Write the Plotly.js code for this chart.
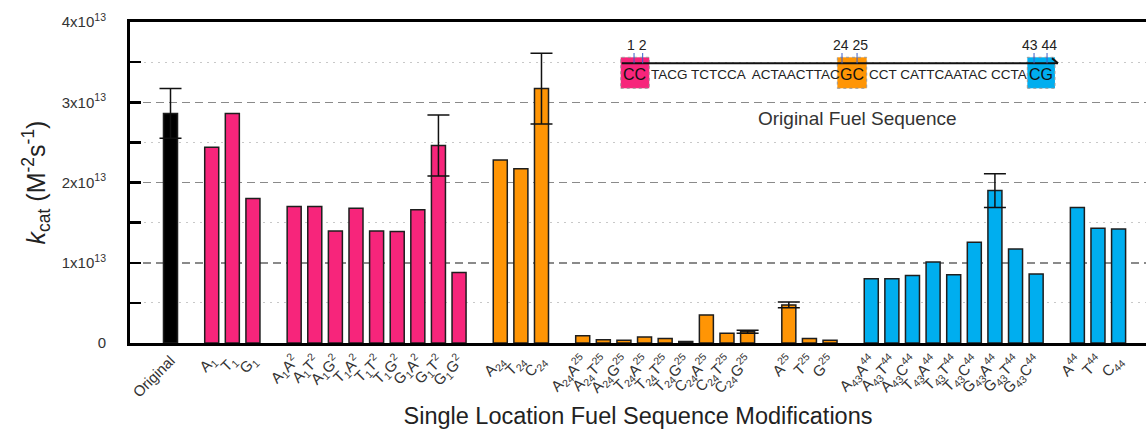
<!DOCTYPE html>
<html>
<head>
<meta charset="utf-8">
<script src="https://cdn.plot.ly/plotly-3.0.1.min.js"></script>
<style>
  html, body { margin: 0; padding: 0; background: #fff; }
  #chart { width: 1146px; height: 429px; }
</style>
</head>
<body>
<div id="chart"></div>
<script>
// ---------- Data (kcat values, units of M^-2 s^-1) ----------
const labelsOriginal = ['Original'];
const valuesOriginal = [2.86e13];
const errorsOriginal = [0.31e13];

const labelsPos1 = ['A<sub>1</sub>', 'T<sub>1</sub>', 'G<sub>1</sub>'];
const valuesPos1 = [2.44e13, 2.86e13, 1.80e13];
const errorsPos1 = [NaN, NaN, NaN];

const labelsPos12 = ['A<sub>1</sub>A<sup>2</sup>', 'A<sub>1</sub>T<sup>2</sup>', 'A<sub>1</sub>G<sup>2</sup>',
                     'T<sub>1</sub>A<sup>2</sup>', 'T<sub>1</sub>T<sup>2</sup>', 'T<sub>1</sub>G<sup>2</sup>',
                     'G<sub>1</sub>A<sup>2</sup>', 'G<sub>1</sub>T<sup>2</sup>', 'G<sub>1</sub>G<sup>2</sup>'];
const valuesPos12 = [1.70e13, 1.70e13, 1.395e13, 1.68e13, 1.395e13, 1.39e13, 1.66e13, 2.46e13, 0.88e13];
const errorsPos12 = [NaN, NaN, NaN, NaN, NaN, NaN, NaN, 0.38e13, NaN];

const labelsPos24 = ['A<sub>24</sub>', 'T<sub>24</sub>', 'C<sub>24</sub>'];
const valuesPos24 = [2.28e13, 2.17e13, 3.17e13];
const errorsPos24 = [NaN, NaN, 0.44e13];

const labelsPos2425 = ['A<sub>24</sub>A<sup>25</sup>', 'A<sub>24</sub>T<sup>25</sup>', 'A<sub>24</sub>G<sup>25</sup>',
                       'T<sub>24</sub>A<sup>25</sup>', 'T<sub>24</sub>T<sup>25</sup>', 'T<sub>24</sub>G<sup>25</sup>',
                       'C<sub>24</sub>A<sup>25</sup>', 'C<sub>24</sub>T<sup>25</sup>', 'C<sub>24</sub>G<sup>25</sup>'];
const valuesPos2425 = [0.09e13, 0.04e13, 0.035e13, 0.075e13, 0.055e13, 0.02e13, 0.35e13, 0.12e13, 0.14e13];
const errorsPos2425 = [NaN, NaN, NaN, NaN, NaN, NaN, NaN, NaN, 0.02e13];

const labelsPos25 = ['A<sup>25</sup>', 'T<sup>25</sup>', 'G<sup>25</sup>'];
const valuesPos25 = [0.475e13, 0.055e13, 0.035e13];
const errorsPos25 = [0.035e13, NaN, NaN];

const labelsPos4344 = ['A<sub>43</sub>A<sup>44</sup>', 'A<sub>43</sub>T<sup>44</sup>', 'A<sub>43</sub>C<sup>44</sup>',
                       'T<sub>43</sub>A<sup>44</sup>', 'T<sub>43</sub>T<sup>44</sup>', 'T<sub>43</sub>C<sup>44</sup>',
                       'G<sub>43</sub>A<sup>44</sup>', 'G<sub>43</sub>T<sup>44</sup>', 'G<sub>43</sub>C<sup>44</sup>'];
const valuesPos4344 = [0.80e13, 0.80e13, 0.84e13, 1.01e13, 0.85e13, 1.255e13, 1.90e13, 1.17e13, 0.86e13];
const errorsPos4344 = [NaN, NaN, NaN, NaN, NaN, NaN, 0.21e13, NaN, NaN];

const labelsPos44 = ['A<sup>44</sup>', 'T<sup>44</sup>', 'C<sub>44</sub>'];
const valuesPos44 = [1.69e13, 1.43e13, 1.42e13];
const errorsPos44 = [NaN, NaN, NaN];

const yTickValues = [0, 1e13, 2e13, 3e13, 4e13];
const yTickLabels = ['0', '1x10<sup>13</sup>', '2x10<sup>13</sup>', '3x10<sup>13</sup>', '4x10<sup>13</sup>'];

// ---------- Styling ----------
const PINK = '#F7257B', ORANGE = '#FF9505', BLUE = '#00AEEF', BLACK = '#000000';
const FONT = '"Liberation Sans", Arial, Helvetica, sans-serif';

const groups = [
  [labelsOriginal, valuesOriginal, errorsOriginal, BLACK],
  [labelsPos1, valuesPos1, errorsPos1, PINK],
  [labelsPos12, valuesPos12, errorsPos12, PINK],
  [labelsPos24, valuesPos24, errorsPos24, ORANGE],
  [labelsPos2425, valuesPos2425, errorsPos2425, ORANGE],
  [labelsPos25, valuesPos25, errorsPos25, ORANGE],
  [labelsPos4344, valuesPos4344, errorsPos4344, BLUE],
  [labelsPos44, valuesPos44, errorsPos44, BLUE]
];

// Sequential slot index with one empty slot between groups
const traces = [];
const tickvals = [], ticktext = [];
let slot = 0;
groups.forEach(([labels, values, errors, color]) => {
  const xs = labels.map((_, i) => slot + i);
  xs.forEach((x, i) => { tickvals.push(x); ticktext.push(labels[i]); });
  traces.push({
    type: 'bar',
    x: xs,
    y: values,
    width: 0.68,
    marker: { color: color, line: { color: '#1e1e1e', width: 1.5 } },
    error_y: { type: 'data', array: errors, visible: true, color: '#111', thickness: 1.5, width: 11 },
    hoverinfo: 'skip',
    showlegend: false
  });
  slot += labels.length + 1;
});

const seqY = 0.835;
const layout = {
  width: 1146, height: 429,
  margin: { l: 130, r: 0, t: 22, b: 86, pad: 0 },
  paper_bgcolor: '#fff', plot_bgcolor: '#fff',
  font: { family: FONT, color: '#333' },
  bargap: 0,
  xaxis: {
    range: [-1.965, 47.33],
    tickmode: 'array', tickvals: tickvals, ticktext: ticktext,
    tickangle: -45, tickfont: { size: 15, color: '#333' },
    ticks: '', showgrid: false, zeroline: false,
    showline: true, linecolor: '#000', linewidth: 3, mirror: true,
    automargin: false,
    title: { text: 'Single Location Fuel Sequence Modifications', font: { size: 23.5, color: '#222' }, standoff: 10 }
  },
  yaxis: {
    range: [0, 4e13],
    tickmode: 'array', tickvals: yTickValues, ticktext: yTickLabels,
    tickfont: { size: 15, color: '#333' },
    ticks: 'inside', ticklen: 11, tickwidth: 2.5, tickcolor: '#000',
    ticklabelstandoff: 18,
    showline: true, linecolor: '#000', linewidth: 3,
    zeroline: false,
    showgrid: true, gridcolor: '#8a8a8a', gridwidth: 1.5, griddash: '8px,5px',
    minor: { tickmode: 'array', tickvals: [0.5e13, 1.5e13, 2.5e13, 3.5e13], ticks: 'inside', ticklen: 11, tickwidth: 2.5, tickcolor: '#000',
             showgrid: true, gridcolor: '#c8c8c8', gridwidth: 1, griddash: '2px,5px' },
    automargin: false,
    title: { text: '<i>k</i><sub>cat</sub> (M<sup>-2</sup>s<sup>-1</sup>)', font: { size: 25, color: '#222' }, standoff: 10 }
  },
  shapes: [
    { type: 'rect', xref: 'paper', yref: 'paper', x0: 0.4830, x1: 0.5111, y0: 0.7935, y1: 0.8900,
      fillcolor: PINK, line: { color: '#999', width: 1, dash: 'dot' }, layer: 'above' },
    { type: 'rect', xref: 'paper', yref: 'paper', x0: 0.6962, x1: 0.7251, y0: 0.7935, y1: 0.8900,
      fillcolor: ORANGE, line: { color: '#999', width: 1, dash: 'dot' }, layer: 'above' },
    { type: 'rect', xref: 'paper', yref: 'paper', x0: 0.8832, x1: 0.9104, y0: 0.7935, y1: 0.8900,
      fillcolor: BLUE, line: { color: '#999', width: 1, dash: 'dot' }, layer: 'above' },
    { type: 'line', xref: 'paper', yref: 'paper', x0: 0.4840, x1: 0.9134, y0: 0.8713, y1: 0.8713,
      line: { color: '#111', width: 2 }, layer: 'above' },
    { type: 'line', xref: 'paper', yref: 'paper', x0: 0.9075, x1: 0.9134, y0: 0.8870, y1: 0.8713,
      line: { color: '#111', width: 2 }, layer: 'above' },
    ...[0.4961, 0.5046, 0.7008, 0.7156, 0.8898, 0.9026].map(x => ({
      type: 'line', xref: 'paper', yref: 'paper', x0: x, x1: x, y0: 0.8713, y1: 0.9034,
      line: { color: '#3a5fcd', width: 1 }, layer: 'above' }))
  ],
  annotations: [
    { text: 'CC', xref: 'paper', yref: 'paper', x: 0.4970, y: seqY, xanchor: 'center', yanchor: 'middle', showarrow: false, font: { size: 16, color: '#111' } },
    { text: 'TACG TCTCCA  ACTAACTTAC', xref: 'paper', yref: 'paper', x: 0.5109, y: seqY, xanchor: 'left', yanchor: 'middle', showarrow: false, font: { size: 13.5, color: '#222' } },
    { text: 'GC', xref: 'paper', yref: 'paper', x: 0.7106, y: seqY, xanchor: 'center', yanchor: 'middle', showarrow: false, font: { size: 16, color: '#111' } },
    { text: 'CCT CATTCAATAC CCTA', xref: 'paper', yref: 'paper', x: 0.7254, y: seqY, xanchor: 'left', yanchor: 'middle', showarrow: false, font: { size: 13.5, color: '#222' } },
    { text: 'CG', xref: 'paper', yref: 'paper', x: 0.8967, y: seqY, xanchor: 'center', yanchor: 'middle', showarrow: false, font: { size: 16, color: '#111' } },
    ...[['1 2', 0.4987], ['24 25', 0.7092], ['43 44', 0.8954]].map(([t, x]) => ({
      text: t, xref: 'paper', yref: 'paper', x: x, y: 0.9283, xanchor: 'center', yanchor: 'middle', showarrow: false,
      font: { size: 14, color: '#222' } })),
    { text: 'Original Fuel Sequence', xref: 'paper', yref: 'paper', x: 0.7156, y: 0.7009, xanchor: 'center', yanchor: 'middle',
      showarrow: false, font: { size: 19, color: '#333' } }
  ]
};

Plotly.newPlot('chart', traces, layout, { displayModeBar: false, staticPlot: true });
</script>
</body>
</html>
